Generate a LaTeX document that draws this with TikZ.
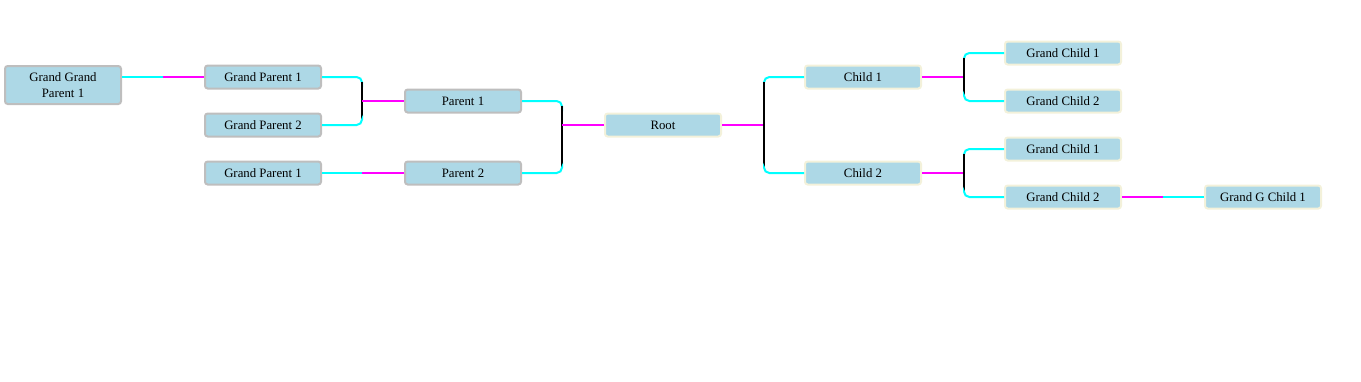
\documentclass[tikz,border=0pt]{standalone}
\usepackage{fontspec}
\setmainfont{Liberation Serif}
\definecolor{lb}{HTML}{ADD8E6}
\definecolor{gr}{HTML}{BEBEBE}
\definecolor{cr}{HTML}{F3F1DA}
\definecolor{cyn}{HTML}{00FFFF}
\definecolor{mag}{HTML}{FF00FF}
\begin{document}
\begin{tikzpicture}[x=0.75pt,y=-0.75pt,
 box/.style={draw, line width=1.5pt, fill=lb, rounded corners=2pt, minimum width=87pt, minimum height=17.25pt, inner sep=0pt, font=\fontsize{9.6}{12}\selectfont, align=center},
 lbox/.style={box, draw=gr}, rbox/.style={box, draw=cr},
 cy/.style={draw=cyn, line width=1.5pt, rounded corners=4pt},
 mg/.style={draw=mag, line width=1.5pt},
 bk/.style={draw=black, line width=1.5pt}]
\useasboundingbox (0,0) rectangle (1361,382);
% nodes
\node[lbox, minimum height=28.5pt] (ggp) at (63,85) {Grand Grand\\Parent 1};
\node[lbox] (gp1) at (263,77) {Grand Parent 1};
\node[lbox] (gp2) at (263,125) {Grand Parent 2};
\node[lbox] (gp3) at (263,173) {Grand Parent 1};
\node[lbox] (p1) at (463,101) {Parent 1};
\node[lbox] (p2) at (463,173) {Parent 2};
\node[rbox] (root) at (663,125) {Root};
\node[rbox] (c1) at (863,77) {Child 1};
\node[rbox] (c2) at (863,173) {Child 2};
\node[rbox] (gc1) at (1063,53) {Grand Child 1};
\node[rbox] (gc2) at (1063,101) {Grand Child 2};
\node[rbox] (gc3) at (1063,149) {Grand Child 1};
\node[rbox] (gc4) at (1063,197) {Grand Child 2};
\node[rbox] (ggc) at (1263,197) {Grand G Child 1};
% junction coordinates
\coordinate (m0) at (163,77);
\coordinate (a1) at (362,82);  \coordinate (a2) at (362,120);
\coordinate (m1) at (362,173);
\coordinate (b1) at (562,106); \coordinate (b2) at (562,168);
\coordinate (c1a) at (764,82); \coordinate (c1b) at (764,168);
\coordinate (d1) at (964,58);  \coordinate (d2) at (964,96);
\coordinate (e1) at (964,154); \coordinate (e2) at (964,192);
\coordinate (m2) at (1163,197);
% ggp -> gp1
\draw[cy] (ggp.east |- gp1) -- (m0);
\draw[mg] (m0) -- (gp1.west);
% gp1, gp2 -> p1
\draw[cy] (gp1.east) -| (a1);
\draw[bk] (a1) -- (a2);
\draw[cy] (a2) |- (gp2.east);
\draw[mg] (p1.west -| a1) -- (p1.west);
% gp3 -> p2
\draw[cy] (gp3.east) -- (m1);
\draw[mg] (m1) -- (p2.west);
% p1, p2 -> root
\draw[cy] (p1.east) -| (b1);
\draw[bk] (b1) -- (b2);
\draw[cy] (b2) |- (p2.east);
\draw[mg] (root.west -| b1) -- (root.west);
% root -> c1, c2
\draw[mg] (root.east) -- (root.east -| c1a);
\draw[cy] (c1.west) -| (c1a);
\draw[bk] (c1a) -- (c1b);
\draw[cy] (c1b) |- (c2.west);
% c1 -> gc1, gc2
\draw[mg] (c1.east) -- (c1.east -| d1);
\draw[cy] (gc1.west) -| (d1);
\draw[bk] (d1) -- (d2);
\draw[cy] (d2) |- (gc2.west);
% c2 -> gc3, gc4
\draw[mg] (c2.east) -- (c2.east -| e1);
\draw[cy] (gc3.west) -| (e1);
\draw[bk] (e1) -- (e2);
\draw[cy] (e2) |- (gc4.west);
% gc4 -> ggc
\draw[mg] (gc4.east) -- (m2);
\draw[cy] (m2) -- (ggc.west);
\end{tikzpicture}
\end{document}
